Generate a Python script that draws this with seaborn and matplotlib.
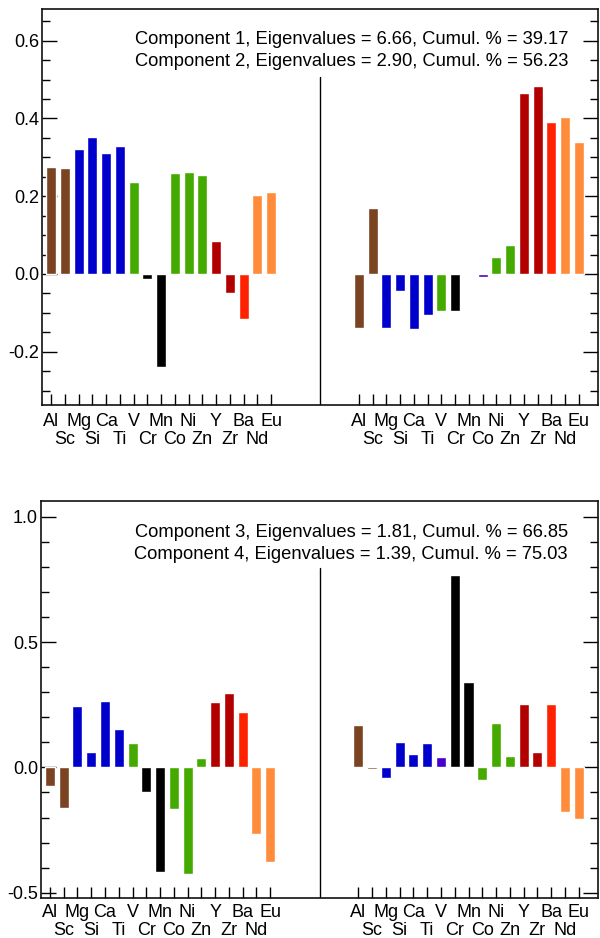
import matplotlib
matplotlib.use('Agg')
import matplotlib.pyplot as plt
from matplotlib.ticker import MultipleLocator, FormatStrFormatter
import seaborn as sns
import pandas as pd

elements = ["Al", "Sc", "Mg", "Si", "Ca", "Ti", "V", "Cr", "Mn",
            "Co", "Ni", "Zn", "Y", "Zr", "Ba", "Nd", "Eu"]

brown, blue, green, black = "#7a4321", "#0000cc", "#44aa00", "#000000"
dred, red, orange, purple = "#b20000", "#ff2200", "#ff8c3a", "#4400cc"
base_colors = [brown, brown, blue, blue, blue, blue, green, black, black,
               green, green, green, dred, dred, red, orange, orange]

comp1 = [0.275, 0.272, 0.321, 0.352, 0.311, 0.329, 0.237, -0.012, -0.238,
         0.260, 0.262, 0.254, 0.085, -0.048, -0.117, 0.203, 0.211]
comp2 = [-0.138, 0.170, -0.138, -0.043, -0.141, -0.105, -0.094, -0.094, -0.002,
         -0.007, 0.044, 0.075, 0.465, 0.483, 0.391, 0.404, 0.339]
comp3 = [-0.076, -0.164, 0.243, 0.063, 0.263, 0.155, 0.099, -0.100, -0.416,
         -0.168, -0.424, 0.039, 0.259, 0.295, 0.223, -0.264, -0.376]
comp4 = [0.171, -0.005, -0.044, 0.103, 0.055, 0.099, 0.043, 0.767, 0.339,
         -0.049, 0.179, 0.047, 0.251, 0.063, 0.251, -0.180, -0.204]

colors2 = list(base_colors)
colors2[9] = purple   # Co drawn in purple in component 2
colors4 = list(base_colors)
colors4[6] = purple   # V drawn in purple in component 4

titles = [
    ["Component 1, Eigenvalues = 6.66, Cumul. % = 39.17",
     "Component 2, Eigenvalues = 2.90, Cumul. % = 56.23"],
    ["Component 3, Eigenvalues = 1.81, Cumul. % = 66.85",
     "Component 4, Eigenvalues = 1.39, Cumul. % = 75.03"],
]

sns.set_style("ticks")
plt.rcParams['font.family'] = ['Liberation Sans', 'DejaVu Sans']
plt.rcParams['axes.unicode_minus'] = False
plt.rcParams['text.color'] = 'black'
plt.rcParams['xtick.color'] = 'black'
plt.rcParams['ytick.color'] = 'black'
plt.rcParams['xtick.labelcolor'] = 'black'
plt.rcParams['ytick.labelcolor'] = 'black'

offset = 22.4
n = len(elements)
fs = 13


def make_frame(left, right, cl, cr):
    pos = list(range(n)) + [offset + i for i in range(n)]
    return pd.DataFrame({"pos": pos, "value": left + right, "color": cl + cr})


fig = plt.figure(figsize=(6, 9.38), dpi=100)
panels = [
    dict(rect=[0.07, 0.5682, 0.9267, 0.4222], data=(comp1, comp2, base_colors, colors2),
         ylim=(-0.337, 0.6815), major=0.2, minor=0.05, ty=(0.9235, 0.8674), tx=0.947,
         vmax=0.828, pads=(6, 19)),
    dict(rect=[0.0678, 0.04296, 0.9288, 0.4232], data=(comp3, comp4, base_colors, colors4),
         ylim=(-0.52, 1.064), major=0.5, minor=0.1, ty=(0.9204, 0.865), tx=0.9456,
         vmax=0.830, pads=(4.5, 17.5)),
]

# top row labels on major ticks, bottom row on minor ticks
top_pos = [i for i in range(0, n, 2)] + [offset + i for i in range(0, n, 2)]
top_lab = elements[0::2] * 2
bot_pos = [i for i in range(1, n, 2)] + [offset + i for i in range(1, n, 2)]
bot_lab = elements[1::2] * 2

for p, ttl in zip(panels, titles):
    ax = fig.add_axes(p["rect"])
    df = make_frame(*p["data"])
    sns.barplot(data=df, x="pos", y="value", hue="color",
                palette={c: c for c in df["color"].unique()},
                native_scale=True, dodge=False, width=0.73,
                saturation=1, legend=False, ax=ax, errorbar=None)
    ax.set_xlim(-0.67, 39.8)
    ax.set_ylim(*p["ylim"])
    ax.set_xlabel("")
    ax.set_ylabel("")
    ax.axvline(19.6, ymin=0, ymax=p["vmax"], color="black", lw=1)

    ax.set_xticks(top_pos)
    ax.set_xticklabels(top_lab)
    ax.set_xticks(bot_pos, minor=True)
    ax.set_xticklabels(bot_lab, minor=True)
    ax.yaxis.set_major_locator(MultipleLocator(p["major"]))
    ax.yaxis.set_minor_locator(MultipleLocator(p["minor"]))
    ax.yaxis.set_major_formatter(FormatStrFormatter('%.1f'))
    ax.tick_params(axis='x', which='major', direction='in', length=8, width=1,
                   pad=p["pads"][0], top=False, bottom=True, labelsize=fs)
    ax.tick_params(axis='x', which='minor', direction='in', length=8, width=1,
                   pad=p["pads"][1], top=False, bottom=True, labelsize=fs)
    ax.tick_params(axis='y', which='major', direction='in', length=11, width=1,
                   left=True, right=True, pad=2, labelsize=fs)
    ax.tick_params(axis='y', which='minor', direction='in', length=6, width=1,
                   left=True, right=True)
    for s in ax.spines.values():
        s.set_visible(True)
        s.set_linewidth(1.2)
        s.set_color("#111111")

    for t, yy in zip(ttl, p["ty"]):
        ax.text(p["tx"], yy, t, transform=ax.transAxes, ha="right", va="center",
                fontsize=13.2, color="black")

fig.savefig("out.png", dpi=100)
plt.close(fig)
